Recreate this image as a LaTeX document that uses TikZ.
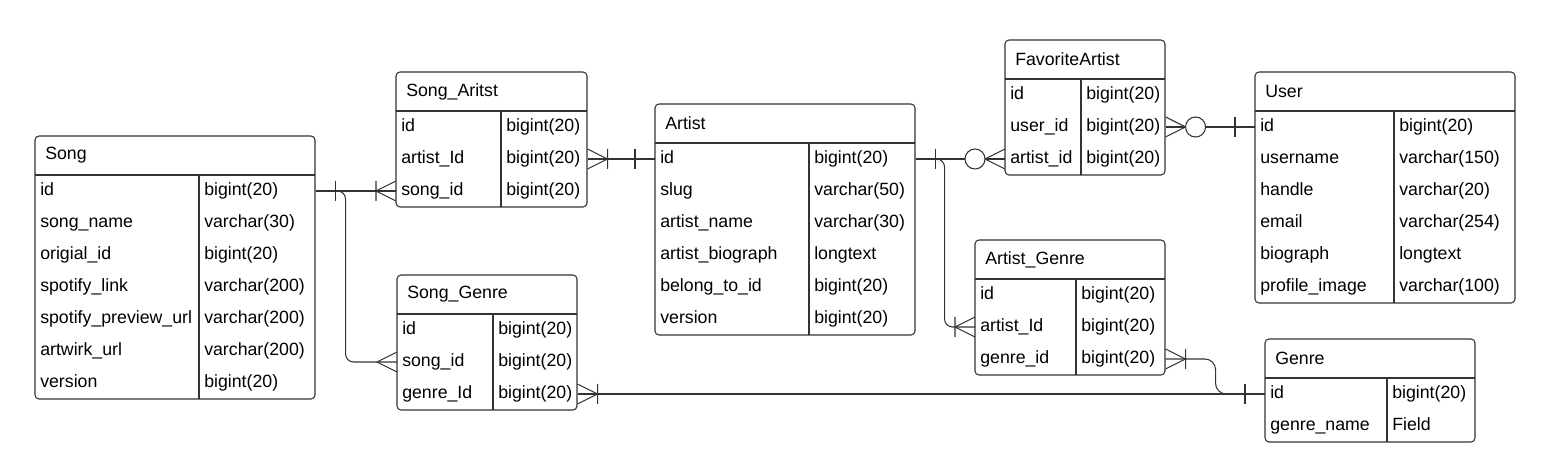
\documentclass[tikz,border=0pt]{standalone}
\usepackage{fontspec}
\setmainfont{Liberation Sans}
\begin{document}
\begin{tikzpicture}[x=0.75pt,y=-0.75pt,font=\fontsize{13.3}{15}\selectfont,
  tbl/.style={draw=black!80,line width=0.8pt,rounded corners=3pt},
  ln/.style={draw=black!80,line width=0.8pt},
  hd/.style={anchor=west,inner xsep=7.5pt},
  fld/.style={anchor=west,inner xsep=3.75pt,text height=9.5pt,text depth=3pt},
  typ/.style={fld,text width=#1,align=left},
  barmark/.pic={\draw[ln] (-20,-10) -- (-20,10);},
  crowmark/.pic={\draw[ln] (0,-10) -- (-20,0) -- (0,10);},
  crowbar/.pic={\draw[ln] (0,-10) -- (-20,0) -- (0,10) (-20,-10) -- (-20,10);},
  crowring/.pic={\draw[ln] (0,-10) -- (-20,0) -- (0,10); \draw[ln,fill=white] (-30,0) circle[radius=10];}]
\useasboundingbox (0,0) rectangle (1548,473);

\draw[tbl](35,136)rectangle(315,399);
\draw[ln](35,175)--(315,175) (199,175)--(199,399);
\node[hd] (song) at (35,155.5) {Song};
\node[fld] (song1n) at (35,191) {id}; \node[typ=79.5pt] (song1t) at (199,191) {bigint(20)};
\node[fld] (song2n) at (35,223) {song\_name}; \node[typ=79.5pt] (song2t) at (199,223) {varchar(30)};
\node[fld] (song3n) at (35,255) {origial\_id}; \node[typ=79.5pt] (song3t) at (199,255) {bigint(20)};
\node[fld] (song4n) at (35,287) {spotify\_link}; \node[typ=79.5pt] (song4t) at (199,287) {varchar(200)};
\node[fld] (song5n) at (35,319) {spotify\_preview\_url}; \node[typ=79.5pt] (song5t) at (199,319) {varchar(200)};
\node[fld] (song6n) at (35,351) {artwirk\_url}; \node[typ=79.5pt] (song6t) at (199,351) {varchar(200)};
\node[fld] (song7n) at (35,383) {version}; \node[typ=79.5pt] (song7t) at (199,383) {bigint(20)};

\draw[tbl](396,72)rectangle(587,207);
\draw[ln](396,111)--(587,111) (501,111)--(501,207);
\node[hd] (sa) at (396,91.5) {Song\_Aritst};
\node[fld] (sa1n) at (396,127) {id}; \node[typ=57pt] (sa1t) at (501,127) {bigint(20)};
\node[fld] (sa2n) at (396,159) {artist\_Id}; \node[typ=57pt] (sa2t) at (501,159) {bigint(20)};
\node[fld] (sa3n) at (396,191) {song\_id}; \node[typ=57pt] (sa3t) at (501,191) {bigint(20)};

\draw[tbl](397,275)rectangle(577,410);
\draw[ln](397,314)--(577,314) (493,314)--(493,410);
\node[hd] (sg) at (397,294.5) {Song\_Genre};
\node[fld] (sg1n) at (397,330) {id}; \node[typ=55.5pt] (sg1t) at (493,330) {bigint(20)};
\node[fld] (sg2n) at (397,362) {song\_id}; \node[typ=55.5pt] (sg2t) at (493,362) {bigint(20)};
\node[fld] (sg3n) at (397,394) {genre\_Id}; \node[typ=55.5pt] (sg3t) at (493,394) {bigint(20)};

\draw[tbl](655,104)rectangle(915,335);
\draw[ln](655,143)--(915,143) (809,143)--(809,335);
\node[hd] (art) at (655,123.5) {Artist};
\node[fld] (art1n) at (655,159) {id}; \node[typ=72pt] (art1t) at (809,159) {bigint(20)};
\node[fld] (art2n) at (655,191) {slug}; \node[typ=72pt] (art2t) at (809,191) {varchar(50)};
\node[fld] (art3n) at (655,223) {artist\_name}; \node[typ=72pt] (art3t) at (809,223) {varchar(30)};
\node[fld] (art4n) at (655,255) {artist\_biograph}; \node[typ=72pt] (art4t) at (809,255) {longtext};
\node[fld] (art5n) at (655,287) {belong\_to\_id}; \node[typ=72pt] (art5t) at (809,287) {bigint(20)};
\node[fld] (art6n) at (655,319) {version}; \node[typ=72pt] (art6t) at (809,319) {bigint(20)};

\draw[tbl](1005,40)rectangle(1165,175);
\draw[ln](1005,79)--(1165,79) (1081,79)--(1081,175);
\node[hd] (fa) at (1005,59.5) {FavoriteArtist};
\node[fld] (fa1n) at (1005,95) {id}; \node[typ=55.5pt] (fa1t) at (1081,95) {bigint(20)};
\node[fld] (fa2n) at (1005,127) {user\_id}; \node[typ=55.5pt] (fa2t) at (1081,127) {bigint(20)};
\node[fld] (fa3n) at (1005,159) {artist\_id}; \node[typ=55.5pt] (fa3t) at (1081,159) {bigint(20)};

\draw[tbl](975,240)rectangle(1165,375);
\draw[ln](975,279)--(1165,279) (1076,279)--(1076,375);
\node[hd] (ag) at (975,259.5) {Artist\_Genre};
\node[fld] (ag1n) at (975,295) {id}; \node[typ=59.25pt] (ag1t) at (1076,295) {bigint(20)};
\node[fld] (ag2n) at (975,327) {artist\_Id}; \node[typ=59.25pt] (ag2t) at (1076,327) {bigint(20)};
\node[fld] (ag3n) at (975,359) {genre\_id}; \node[typ=59.25pt] (ag3t) at (1076,359) {bigint(20)};

\draw[tbl](1255,72)rectangle(1515,303);
\draw[ln](1255,111)--(1515,111) (1394,111)--(1394,303);
\node[hd] (user) at (1255,91.5) {User};
\node[fld] (user1n) at (1255,127) {id}; \node[typ=83.25pt] (user1t) at (1394,127) {bigint(20)};
\node[fld] (user2n) at (1255,159) {username}; \node[typ=83.25pt] (user2t) at (1394,159) {varchar(150)};
\node[fld] (user3n) at (1255,191) {handle}; \node[typ=83.25pt] (user3t) at (1394,191) {varchar(20)};
\node[fld] (user4n) at (1255,223) {email}; \node[typ=83.25pt] (user4t) at (1394,223) {varchar(254)};
\node[fld] (user5n) at (1255,255) {biograph}; \node[typ=83.25pt] (user5t) at (1394,255) {longtext};
\node[fld] (user6n) at (1255,287) {profile\_image}; \node[typ=83.25pt] (user6t) at (1394,287) {varchar(100)};

\draw[tbl](1265,339)rectangle(1475,442);
\draw[ln](1265,378)--(1475,378) (1387,378)--(1387,442);
\node[hd] (genre) at (1265,358.5) {Genre};
\node[fld] (genre1n) at (1265,394) {id}; \node[typ=58.5pt] (genre1t) at (1387,394) {bigint(20)};
\node[fld] (genre2n) at (1265,426) {genre\_name}; \node[typ=58.5pt] (genre2t) at (1387,426) {Field};

\draw[ln] (song1t.east) -- (sa3n.west);
\draw[ln,rounded corners=6pt] (song1t.east) -- ++(30,0) |- (sg2n.west);
\draw[ln] (sa2t.east) -- (art1n.west);
\draw[ln] (art1t.east) -- (fa3n.west);
\draw[ln,rounded corners=6pt] (art1t.east) -- ++(29,0) |- (ag2n.west);
\draw[ln] (fa2t.east) -- (user1n.west);
\draw[ln,rounded corners=8pt] (ag3t.east) -- ++(50,0) |- (genre1n.west);
\draw[ln] (sg3t.east) -- (genre1n.west);

\pic[xscale=-1] at (song1t.east) {barmark};
\pic at (sa3n.west) {crowbar};
\pic at (sg2n.west) {crowmark};
\pic[xscale=-1] at (sa2t.east) {crowbar};
\pic at (art1n.west) {barmark};
\pic[xscale=-1] at (art1t.east) {barmark};
\pic at (fa3n.west) {crowring};
\pic at (ag2n.west) {crowbar};
\pic[xscale=-1] at (fa2t.east) {crowring};
\pic at (user1n.west) {barmark};
\pic[xscale=-1] at (ag3t.east) {crowbar};
\pic at (genre1n.west) {barmark};
\pic[xscale=-1] at (sg3t.east) {crowbar};
\end{tikzpicture}
\end{document}
